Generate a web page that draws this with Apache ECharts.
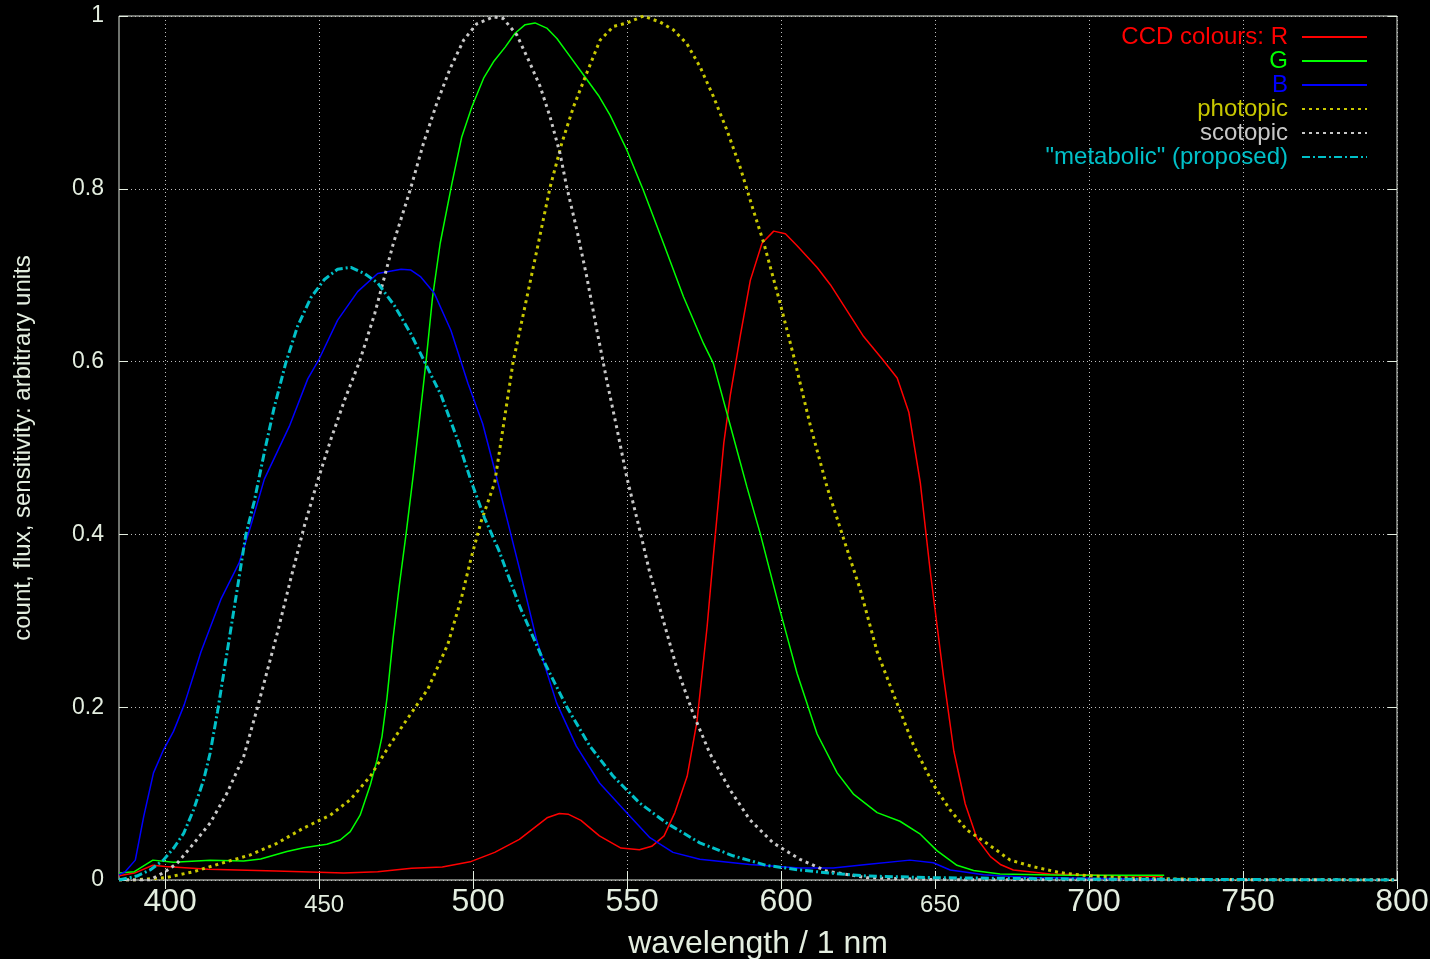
<!DOCTYPE html>
<html>
<head>
<meta charset="utf-8">
<script src="https://cdn.jsdelivr.net/npm/echarts@6/dist/echarts.min.js"></script>
<style>
  html, body { margin: 0; padding: 0; background: #000; }
  #chart { width: 1430px; height: 959px; }
</style>
</head>
<body>
<div id="chart"></div>
<script>
// tick labels
const xTicks = [400, 450, 500, 550, 600, 650, 700, 750, 800];
const xSmallTicks = [450, 650];

// CCD red
const rWl  = [385, 390, 396, 400, 414, 436, 458, 469, 480, 490, 499, 507, 515, 524, 528, 531, 535, 541, 548, 554, 558, 562, 565.5, 569.5, 572.7, 576, 578, 581.4, 583.5, 586.8, 590, 593.8, 597.6, 601.4, 605.2, 611.7, 616, 621.4, 626.8, 633.3, 637.7, 641.5, 645.2, 648.5, 652.8, 656.1, 659.8, 663.6, 668, 671.2, 675.4, 687.4, 703.6, 724];
const rVal = [0.005, 0.008, 0.017, 0.0155, 0.0125, 0.0105, 0.008, 0.0095, 0.0135, 0.015, 0.021, 0.032, 0.047, 0.072, 0.077, 0.076, 0.069, 0.051, 0.037, 0.035, 0.039, 0.051, 0.078, 0.12, 0.184, 0.294, 0.375, 0.506, 0.561, 0.631, 0.694, 0.737, 0.751, 0.748, 0.734, 0.709, 0.689, 0.659, 0.629, 0.601, 0.581, 0.541, 0.46, 0.355, 0.234, 0.149, 0.088, 0.048, 0.027, 0.018, 0.0116, 0.007, 0.0054, 0.004];

// CCD green
const gWl  = [385, 390, 396, 402.7, 414.6, 425.5, 431, 439.5, 445, 452.5, 456.8, 460.1, 463.3, 466.6, 468.8, 470.4, 472, 474, 476, 478.2, 480.6, 482.5, 484.7, 486.8, 489.3, 493.1, 496.3, 499.6, 503.4, 506.6, 510.4, 513.6, 516.9, 520.1, 523.9, 527.2, 531.5, 535.8, 540.7, 544.5, 549.9, 555.3, 561.8, 568.3, 574.8, 578, 583.5, 588.9, 593.3, 599.8, 605.2, 611.7, 618.2, 623.6, 631.2, 638.6, 645.2, 650.6, 657.1, 662.5, 671.1, 692.8, 724.4];
const gVal = [0.008, 0.0096, 0.023, 0.0205, 0.023, 0.022, 0.0243, 0.033, 0.0374, 0.0413, 0.0463, 0.056, 0.075, 0.11, 0.139, 0.166, 0.21, 0.28, 0.34, 0.4, 0.47, 0.53, 0.6, 0.674, 0.737, 0.806, 0.86, 0.895, 0.928, 0.947, 0.964, 0.98, 0.99, 0.992, 0.986, 0.974, 0.953, 0.932, 0.908, 0.885, 0.845, 0.798, 0.737, 0.675, 0.621, 0.598, 0.526, 0.455, 0.4, 0.31, 0.239, 0.169, 0.124, 0.099, 0.078, 0.068, 0.053, 0.034, 0.017, 0.011, 0.007, 0.0054, 0.0054];

// CCD blue
const bWl  = [385, 387, 390.3, 393, 396.2, 399.5, 402.7, 406.2, 411.6, 418.1, 424, 427.8, 432.2, 440.3, 446.3, 450, 456, 462.5, 469, 476.6, 479.8, 483, 487.4, 492.8, 498.3, 503.1, 506.9, 511.2, 515.2, 520.6, 527.1, 533.5, 541.1, 549.8, 557.4, 564.9, 573.6, 589.8, 606, 616.9, 627.7, 641.8, 649.4, 654.9, 660.2, 665.7, 671, 681.9, 724];
const bVal = [0.006, 0.0096, 0.023, 0.073, 0.124, 0.151, 0.172, 0.203, 0.264, 0.325, 0.367, 0.41, 0.464, 0.525, 0.58, 0.603, 0.648, 0.681, 0.702, 0.707, 0.706, 0.698, 0.679, 0.636, 0.575, 0.528, 0.476, 0.415, 0.358, 0.278, 0.205, 0.155, 0.112, 0.078, 0.049, 0.032, 0.024, 0.018, 0.014, 0.014, 0.018, 0.023, 0.02, 0.0116, 0.009, 0.006, 0.005, 0.003, 0.001];

// photopic
const pWl  = [385, 390, 400.6, 409.2, 417.9, 427.6, 436.3, 444.9, 453.6, 460.1, 466.6, 472, 477, 485.3, 491.8, 496.1, 499.3, 502.6, 507, 510, 513, 516, 520.7, 525, 528.8, 532.6, 536.9, 541.2, 545.6, 550, 555.3, 560.7, 565, 569.4, 573.7, 578, 582.4, 586.7, 591, 594.4, 599.8, 604.1, 609.5, 614.9, 620.3, 625.8, 631.2, 636.6, 643, 649.5, 654.9, 660.3, 666.8, 674.4, 681.9, 690.6, 699.3, 714.4, 740, 800];
const pVal = [0, 0, 0.003, 0.0096, 0.019, 0.029, 0.0425, 0.06, 0.075, 0.093, 0.12, 0.151, 0.178, 0.221, 0.273, 0.325, 0.372, 0.415, 0.46, 0.53, 0.6, 0.65, 0.729, 0.802, 0.853, 0.895, 0.934, 0.972, 0.988, 0.992, 1.0, 0.993, 0.984, 0.968, 0.941, 0.907, 0.868, 0.825, 0.775, 0.737, 0.666, 0.606, 0.526, 0.455, 0.395, 0.335, 0.264, 0.214, 0.156, 0.11, 0.081, 0.058, 0.0425, 0.023, 0.0154, 0.0085, 0.005, 0.002, 0.0005, 0];

// scotopic
const sWl  = [385, 395, 400, 403.8, 409.2, 414.6, 420, 425.5, 430, 436.5, 440.8, 445.2, 449.5, 453.8, 458.2, 463.1, 468, 474.1, 479.5, 483.9, 488.2, 492.5, 496.9, 501.2, 506.6, 509.8, 514.2, 518.5, 521.8, 525, 528.2, 530.4, 533.7, 536.9, 540.2, 543.4, 546.6, 549.9, 554.1, 557.4, 561.7, 566, 571.4, 576.8, 583.3, 589.8, 597.4, 606.1, 614.7, 627.7, 650, 700, 800];
const sVal = [0, 0, 0.0096, 0.019, 0.042, 0.066, 0.1, 0.143, 0.2, 0.287, 0.349, 0.41, 0.462, 0.51, 0.555, 0.6, 0.655, 0.737, 0.798, 0.853, 0.899, 0.939, 0.972, 0.991, 0.999, 0.997, 0.978, 0.945, 0.918, 0.883, 0.841, 0.802, 0.752, 0.698, 0.636, 0.578, 0.524, 0.466, 0.405, 0.355, 0.301, 0.247, 0.193, 0.147, 0.105, 0.07, 0.043, 0.024, 0.0104, 0.0027, 0.0005, 0, 0];

// "metabolic" (proposed)
const mWl  = [385, 390.8, 395.1, 399.4, 402.7, 406, 409.2, 412.5, 414.6, 417, 420.3, 423.5, 426.2, 428.9, 432.2, 435.4, 439.2, 443, 447.3, 451.7, 456, 460.3, 464.7, 469, 474.4, 479.8, 484.2, 489.6, 495, 499.3, 503.7, 508.3, 515.2, 522.7, 530.3, 537.9, 545.5, 554.1, 562.8, 573.6, 584.4, 595.2, 606.1, 616.9, 627.7, 649.4, 700, 800];
const mVal = [0, 0.0046, 0.0116, 0.023, 0.0367, 0.054, 0.081, 0.116, 0.147, 0.195, 0.268, 0.339, 0.4, 0.438, 0.495, 0.547, 0.599, 0.641, 0.674, 0.695, 0.707, 0.709, 0.702, 0.691, 0.665, 0.632, 0.6, 0.561, 0.509, 0.462, 0.419, 0.382, 0.316, 0.255, 0.201, 0.155, 0.12, 0.089, 0.066, 0.043, 0.028, 0.017, 0.0115, 0.0077, 0.0046, 0.0027, 0.001, 0];

const TEXT = '#e4eee0';
const FONT = 'Liberation Sans, Arial, Helvetica, sans-serif';

function zip(xs, ys) {
  return xs.map((x, i) => [x, ys[i]]);
}

function lineSeries(name, xs, ys, color, width, type) {
  return {
    name: name,
    type: 'line',
    data: zip(xs, ys),
    showSymbol: false,
    symbol: 'circle',
    smooth: false,
    lineStyle: { color: color, width: width, type: type },
    itemStyle: { color: color },
    emphasis: { disabled: true }
  };
}

const chart = echarts.init(document.getElementById('chart'));

const option = {
  backgroundColor: '#000000',
  animation: false,
  textStyle: { fontFamily: FONT },
  grid: {
    left: 119, right: 33, top: 16, bottom: 79,
    outerBoundsMode: 'none',
    containLabel: false,
    show: true,
    borderColor: '#dfe6dc',
    borderWidth: 1
  },
  legend: {
    orient: 'vertical',
    right: 57,
    top: 20,
    align: 'right',
    itemWidth: 65,
    itemHeight: 14,
    itemGap: 0,
    selectedMode: false,
    itemStyle: { color: 'rgba(0,0,0,0)', borderWidth: 0 },
    textStyle: { fontSize: 24, lineHeight: 24, fontFamily: FONT, padding: [0, 9, 0, 0] },
    data: [
      { name: 'CCD colours: R', textStyle: { color: '#ff0000' } },
      { name: 'G', textStyle: { color: '#00ff00' } },
      { name: 'B', textStyle: { color: '#0000ff' } },
      { name: 'photopic', textStyle: { color: '#c8c800' } },
      { name: 'scotopic', textStyle: { color: '#c8c8c8' } },
      { name: '"metabolic" (proposed)', textStyle: { color: '#00c0c8' } }
    ]
  },
  xAxis: [
    {
      type: 'value',
      min: 385,
      max: 800,
      name: 'wavelength / 1 nm',
      nameLocation: 'middle',
      nameGap: 48,
      nameTextStyle: { color: TEXT, fontSize: 32, fontFamily: FONT },
      axisLine: { show: false },
      axisTick: { show: true, inside: true, length: 9, customValues: xTicks, lineStyle: { color: TEXT } },
      axisLabel: {
        customValues: xTicks,
        color: TEXT,
        margin: 6,
        formatter: function (v) {
          return xSmallTicks.indexOf(v) >= 0 ? '{s|' + v + '}' : '{b|' + v + '}';
        },
        rich: {
          b: { fontSize: 32, fontFamily: FONT, color: TEXT, padding: [0, 0, 0, 10] },
          s: { fontSize: 24, fontFamily: FONT, color: TEXT, padding: [7, 0, 0, 10] }
        }
      },
      splitLine: { show: true, lineStyle: { color: '#bfbfbf', type: [1, 3], width: 1 } }
    },
    {
      type: 'value',
      position: 'top',
      min: 385,
      max: 800,
      axisLine: { show: false },
      axisTick: { show: true, inside: true, length: 9, customValues: xTicks, lineStyle: { color: TEXT } },
      axisLabel: { show: false },
      splitLine: { show: false }
    }
  ],
  yAxis: [
    {
      type: 'value',
      min: 0,
      max: 1,
      interval: 0.2,
      name: 'count, flux, sensitivity: arbitrary units',
      nameLocation: 'middle',
      nameGap: 84,
      nameTextStyle: { color: TEXT, fontSize: 24, fontFamily: FONT },
      axisLine: { show: false },
      axisTick: { show: true, inside: true, length: 9, lineStyle: { color: TEXT } },
      axisLabel: { color: TEXT, fontSize: 23, fontFamily: FONT, margin: 15 },
      splitLine: { show: true, lineStyle: { color: '#bfbfbf', type: [1, 3], width: 1 } }
    },
    {
      type: 'value',
      position: 'right',
      min: 0,
      max: 1,
      interval: 0.2,
      axisLine: { show: false },
      axisTick: { show: true, inside: true, length: 9, lineStyle: { color: TEXT } },
      axisLabel: { show: false },
      splitLine: { show: false }
    }
  ],
  series: [
    lineSeries('CCD colours: R', rWl, rVal, '#ff0000', 1.5, 'solid'),
    lineSeries('G', gWl, gVal, '#00ff00', 1.5, 'solid'),
    lineSeries('B', bWl, bVal, '#0000ff', 1.5, 'solid'),
    lineSeries('photopic', pWl, pVal, '#c8c800', 3, [3, 4]),
    lineSeries('scotopic', sWl, sVal, '#c8c8c8', 3, [3, 4]),
    lineSeries('"metabolic" (proposed)', mWl, mVal, '#00c0c8', 3, [8, 3, 2, 3])
  ]
};

chart.setOption(option);
window.addEventListener('resize', function () { chart.resize(); });
</script>
</body>
</html>
